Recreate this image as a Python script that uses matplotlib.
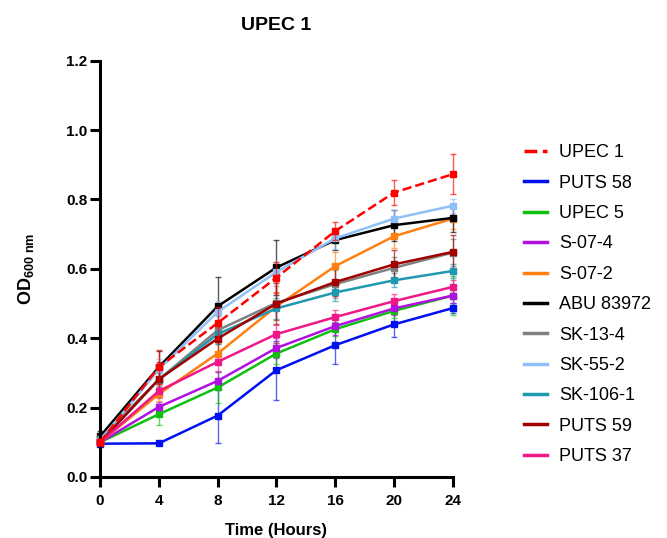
import matplotlib
matplotlib.use("Agg")
import matplotlib.pyplot as plt
from matplotlib.lines import Line2D
import numpy as np

plt.rcParams['font.family'] = ['Liberation Sans', 'DejaVu Sans']
plt.rcParams['mathtext.fontset'] = 'custom'
plt.rcParams['mathtext.bf'] = 'Liberation Sans:bold'
plt.rcParams['mathtext.rm'] = 'Liberation Sans'

hours = [0, 4, 8, 12, 16, 20, 24]

names = ["UPEC 1", "PUTS 58", "UPEC 5", "S-07-4", "S-07-2", "ABU 83972",
         "SK-13-4", "SK-55-2", "SK-106-1", "PUTS 59", "PUTS 37"]
colors = ["#ff0000", "#0010f0", "#10c010", "#b010e0", "#ff8010", "#000000",
          "#808080", "#90c0f8", "#2098b0", "#a00000", "#f01888"]

upec1 = [0.100, 0.317, 0.444, 0.575, 0.709, 0.820, 0.873]
puts58 = [0.096, 0.097, 0.177, 0.308, 0.380, 0.440, 0.487]
upec5 = [0.100, 0.181, 0.258, 0.356, 0.426, 0.479, 0.523]
s074 = [0.100, 0.202, 0.277, 0.372, 0.435, 0.486, 0.523]
s072 = [0.100, 0.239, 0.356, 0.492, 0.608, 0.694, 0.745]
abu = [0.117, 0.317, 0.492, 0.604, 0.683, 0.726, 0.747]
sk134 = [0.110, 0.281, 0.423, 0.502, 0.556, 0.603, 0.647]
sk552 = [0.105, 0.310, 0.476, 0.591, 0.688, 0.745, 0.782]
sk1061 = [0.100, 0.281, 0.412, 0.486, 0.532, 0.567, 0.594]
puts59 = [0.100, 0.282, 0.399, 0.500, 0.562, 0.613, 0.649]
puts37 = [0.100, 0.248, 0.332, 0.412, 0.461, 0.507, 0.548]

upec1_err = [0.010, 0.050, 0.045, 0.045, 0.027, 0.036, 0.058]
puts58_err = [0.005, 0.005, 0.080, 0.085, 0.053, 0.036, 0.015]
upec5_err = [0.010, 0.030, 0.045, 0.030, 0.020, 0.020, 0.055]
s074_err = [0.010, 0.015, 0.025, 0.030, 0.025, 0.020, 0.020]
s072_err = [0.010, 0.020, 0.030, 0.040, 0.040, 0.035, 0.030]
abu_err = [0.015, 0.045, 0.085, 0.080, 0.030, 0.045, 0.040]
sk134_err = [0.015, 0.030, 0.040, 0.050, 0.040, 0.030, 0.040]
sk552_err = [0.010, 0.030, 0.030, 0.030, 0.030, 0.025, 0.020]
sk1061_err = [0.010, 0.020, 0.030, 0.030, 0.025, 0.020, 0.020]
puts59_err = [0.010, 0.050, 0.040, 0.060, 0.040, 0.040, 0.050]
puts37_err = [0.010, 0.020, 0.025, 0.025, 0.020, 0.020, 0.020]

series = [upec1, puts58, upec5, s074, s072, abu, sk134, sk552, sk1061, puts59, puts37]
errors = [upec1_err, puts58_err, upec5_err, s074_err, s072_err, abu_err,
          sk134_err, sk552_err, sk1061_err, puts59_err, puts37_err]

fig = plt.figure(figsize=(6.67, 5.38), dpi=100)
ax = fig.add_axes([0.150, 0.1134, 0.529, 0.7737])

lw = 1.8
# draw UPEC 1 last so the dashed line sits on top
order = list(range(1, len(names))) + [0]
for i in order:
    ls = "--" if i == 0 else "-"
    eb = ax.errorbar(hours, series[i], yerr=errors[i], color=colors[i], linestyle=ls,
                     linewidth=lw, marker="s", markersize=4.5, capsize=2,
                     elinewidth=1.0, capthick=1.0, zorder=3 if i == 0 else 2,
                     clip_on=False)
    for bar in eb[2]:
        bar.set_alpha(0.65)
    for cap in eb[1]:
        cap.set_alpha(0.65)

ax.set_xlim(0, 24)
ax.set_ylim(0, 1.2)
ax.set_xticks(hours)
ax.set_yticks(np.arange(0, 1.21, 0.2))
ax.set_yticklabels([f"{v:.1f}" for v in np.arange(0, 1.21, 0.2)])

for side in ["top", "right"]:
    ax.spines[side].set_visible(False)
for side in ["left", "bottom"]:
    ax.spines[side].set_linewidth(2.2)
ax.tick_params(width=2.2, length=7, labelsize=11, pad=2)
ax.tick_params(axis="x", pad=5)
for lab in ax.get_xticklabels() + ax.get_yticklabels():
    lab.set_fontweight("bold")

ax.set_title("UPEC 1", fontsize=14, fontweight="bold", pad=22)
ax.set_xlabel("Time (Hours)", fontsize=12, fontweight="bold", labelpad=11)
ax.set_ylabel(r"OD$_{\mathbf{600\ nm}}$", fontsize=13, fontweight="bold", labelpad=22)

handles = [Line2D([0], [0], color=c, linewidth=2.5, linestyle="--" if k == 0 else "-")
           for k, c in enumerate(colors)]
fig.legend(handles, names, loc="upper left", bbox_to_anchor=(0.775, 0.745),
           frameon=False, fontsize=13, handlelength=1.25, handletextpad=0.7,
           labelspacing=0.74, borderaxespad=0)

fig.savefig("out.png", dpi=100)
